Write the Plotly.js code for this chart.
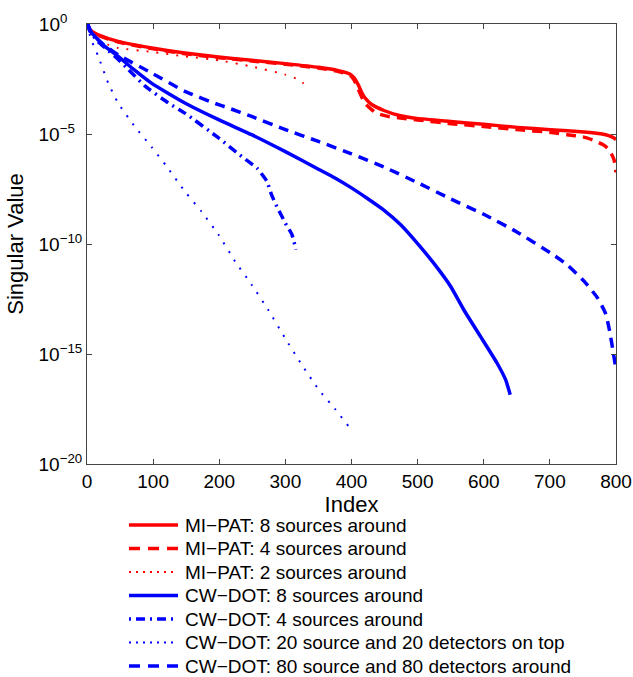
<!DOCTYPE html>
<html><head><meta charset="utf-8">
<script src="https://cdn.plot.ly/plotly-3.0.1.min.js"></script>
<style>html,body{margin:0;padding:0;background:#fff}#chart{width:633px;height:677px}</style>
</head><body><div id="chart"></div>
<script>
// MI-PAT: 8 sources around
const miPat8Index = [1,3,8,17,47,98,148,199,249,300,350,380,398,404,410,416,422,430,449,474,499,550,600,651,701,752,777,790,797,800];
const miPat8Value = [1,0.631,0.447,0.324,0.162,0.0813,0.0479,0.0316,0.0224,0.0158,0.0107,0.00759,0.00525,0.00355,0.00178,7.1e-4,3.8e-4,2.24e-4,1.17e-4,6.76e-5,5.13e-5,3.72e-5,2.75e-5,2.0e-5,1.58e-5,1.23e-5,1.02e-5,8.3e-6,6.6e-6,5.6e-6];
// MI-PAT: 4 sources around
const miPat4Index = [1,3,8,17,47,98,148,199,249,300,350,380,398,404,410,416,422,430,438,455,474,500,550,600,650,700,726,750,767,780,787,793,797,800];
const miPat4Value = [1,0.631,0.427,0.302,0.151,0.0759,0.0447,0.0295,0.0209,0.0148,0.01,0.00692,0.00468,0.00282,0.00112,4.47e-4,2.24e-4,1.32e-4,8.9e-5,6.3e-5,5.37e-5,4.37e-5,2.95e-5,2.19e-5,1.58e-5,1.2e-5,9.3e-6,7.4e-6,5.1e-6,3.3e-6,2.3e-6,1.26e-6,6.8e-7,1.8e-7];
// MI-PAT: 2 sources around
const miPat2Index = [1,5,15,32,47,98,148,199,249,300,320,337];
const miPat2Value = [1,0.398,0.2,0.115,0.0813,0.0537,0.0339,0.0224,0.0117,0.00501,0.00295,0.00117];
// CW-DOT: 8 sources around
const cwDot8Index = [1,4,12,27,47,72,98,148,199,249,300,350,375,400,423,448,474,499,524,550,570,595,620,633,640];
const cwDot8Value = [1,0.501,0.275,0.0955,0.0339,0.00794,0.002,2.57e-4,4.47e-5,9.3e-6,1.58e-6,2.51e-7,1e-7,3.55e-8,1.23e-8,3.63e-9,7.6e-10,1.12e-10,1.38e-11,1.17e-12,1e-13,6.3e-15,3.9e-16,6.8e-17,1.41e-17];
// CW-DOT: 4 sources around
const cwDot4Index = [1,5,15,30,47,62,87,123,148,199,234,257,272,279,287,300,310,316];
const cwDot4Value = [1,0.447,0.178,0.0708,0.0251,0.00891,0.00158,2.57e-4,8.9e-5,6.6e-6,9.5e-7,2.82e-7,7.1e-8,1.74e-8,5.1e-9,8.9e-10,2.63e-10,5.5e-11];
// CW-DOT: 20 source and 20 detectors on top
const cwDot20Index = [1,5,17,32,47,72,98,120,148,173,199,224,249,274,300,325,350,375,396];
const cwDot20Value = [1,0.251,0.0339,0.00209,2.57e-4,2.24e-5,2.5e-6,3.5e-7,2.45e-8,3.0e-9,2.63e-10,1.62e-11,1.41e-12,1.02e-13,5e-15,3.2e-16,2.5e-17,3.2e-18,5e-19];
// CW-DOT: 80 source and 80 detectors around
const cwDot80Index = [1,8,22,47,98,148,199,214,249,300,350,400,449,499,550,600,650,701,726,752,772,784,790,796,800];
const cwDot80Value = [1,0.355,0.138,0.0398,0.00589,8.7e-4,2.14e-4,1.51e-4,6.3e-5,1.58e-5,4.6e-6,1.26e-6,3.16e-7,6.3e-8,1.12e-8,2.24e-9,3.55e-10,3.9e-11,1.15e-11,2e-12,3.55e-13,7.2e-14,1.26e-14,1.12e-15,1.95e-16];

const seriesNames = [
  'MI\u2212PAT: 8 sources around',
  'MI\u2212PAT: 4 sources around',
  'MI\u2212PAT: 2 sources around',
  'CW\u2212DOT: 8 sources around',
  'CW\u2212DOT: 4 sources around',
  'CW\u2212DOT: 20 source and 20 detectors on top',
  'CW\u2212DOT: 80 source and 80 detectors around'
];
const xTickVals = [0,100,200,300,400,500,600,700,800];
const yTickVals = [1,1e-5,1e-10,1e-15,1e-20];
const yTickText = ['10<sup>0\u00a0\u00a0\u00a0\u00a0</sup>','10<sup>\u22125\u00a0\u00a0</sup>','10<sup>\u221210</sup>','10<sup>\u221215</sup>','10<sup>\u221220</sup>'];

const RED = '#ff0000', BLUE = '#0000ff';
const styles = [
  {color: RED, width: 3.5, dash: 'solid'},
  {color: RED, width: 3.5, dash: '10px,7px'},
  {color: RED, width: 2, dash: '2px,8px'},
  {color: BLUE, width: 3.5, dash: 'solid'},
  {color: BLUE, width: 3.5, dash: '9px,5px,2px,5px'},
  {color: BLUE, width: 2, dash: '2px,8px'},
  {color: BLUE, width: 3.5, dash: '10px,7px'}
];
const xs = [miPat8Index, miPat4Index, miPat2Index, cwDot8Index, cwDot4Index, cwDot20Index, cwDot80Index];
const ys = [miPat8Value, miPat4Value, miPat2Value, cwDot8Value, cwDot4Value, cwDot20Value, cwDot80Value];
const data = xs.map((x, i) => ({
  x, y: ys[i], name: seriesNames[i], type: 'scatter', mode: 'lines', showlegend: false,
  line: {color: styles[i].color, width: styles[i].width, dash: styles[i].dash, shape: 'spline', smoothing: 0.5}
}));

// legend drawn below the axes (layout decoration in paper coordinates)
const W = 633, H = 677, M = {l: 87, r: 17, t: 24, b: 213};
const PW = W - M.l - M.r, PH = H - M.t - M.b;
const px2x = p => (p - M.l) / PW;
const py2y = p => (H - M.b - p) / PH;
const legRow0 = 525, legRowGap = 23.5, legLineX0 = 129, legLineX1 = 178, legTextX = 184;
const legendLineSamples = [
  {color: RED, width: 3.5, dash: 'solid'},
  {color: RED, width: 3.5, dash: '11px,8px'},
  {color: RED, width: 2, dash: '2px,5px'},
  {color: BLUE, width: 3.5, dash: 'solid'},
  {color: BLUE, width: 3.5, dash: '2px,5px,9px,5px'},
  {color: BLUE, width: 2, dash: '2px,5px'},
  {color: BLUE, width: 3.5, dash: '11px,8px'}
];
const FONT = 'Liberation Sans, Arial, Helvetica, sans-serif';
const shapes = [], annotations = [];
seriesNames.forEach((name, i) => {
  const yy = py2y(legRow0 + legRowGap * i);
  const st = legendLineSamples[i];
  shapes.push({type: 'line', xref: 'paper', yref: 'paper', x0: px2x(legLineX0), x1: px2x(legLineX1), y0: yy, y1: yy,
               line: {color: st.color, width: st.width, dash: st.dash}});
  annotations.push({xref: 'paper', yref: 'paper', x: px2x(legTextX), y: yy, xanchor: 'left', yanchor: 'middle',
                    borderpad: 0, height: 21, text: name, showarrow: false, font: {family: FONT, size: 19, color: '#000'}});
});

const layout = {
  width: W, height: H,
  margin: {l: M.l, r: M.r, t: M.t, b: M.b, autoexpand: false},
  paper_bgcolor: '#fff', plot_bgcolor: '#fff',
  font: {family: FONT, size: 19, color: '#000'},
  showlegend: false,
  shapes, annotations,
  xaxis: {
    range: [0, 800], tickvals: xTickVals, ticks: 'inside', ticklen: 5, tickcolor: '#444',
    showline: true, linecolor: '#444', linewidth: 1, mirror: 'ticks', showgrid: false, zeroline: false,
    tickfont: {family: FONT, size: 19, color: '#000'}, automargin: true,
    title: {text: 'Index', font: {family: FONT, size: 22, color: '#000'}, standoff: 0}
  },
  yaxis: {
    type: 'log', range: [-20, 0], tickvals: yTickVals, ticktext: yTickText,
    ticks: 'inside', ticklen: 5, tickcolor: '#444',
    showline: true, linecolor: '#444', linewidth: 1, mirror: 'ticks', showgrid: false, zeroline: false,
    tickfont: {family: FONT, size: 19, color: '#000'},
    title: {text: 'Singular Value', font: {family: FONT, size: 22, color: '#000'}, standoff: 8}
  }
};
Plotly.newPlot('chart', data, layout, {displayModeBar: false, staticPlot: true});
</script>
</body></html>
